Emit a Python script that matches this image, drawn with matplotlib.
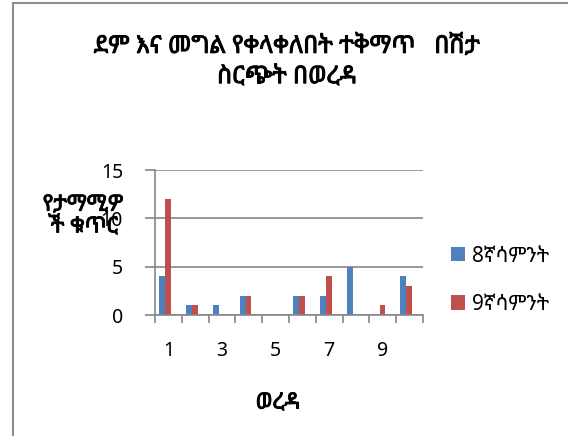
import matplotlib
matplotlib.use("Agg")
import matplotlib.pyplot as plt
import matplotlib.patheffects as pe
import numpy as np
from matplotlib.patches import Rectangle

# data
districts = [1, 2, 3, 4, 5, 6, 7, 8, 9, 10]
week8 = [4, 1, 1, 2, 0, 2, 2, 5, 0, 4]
week9 = [12, 1, 0, 2, 0, 2, 4, 0, 1, 3]
series_names = ["8ኛሳምንት", "9ኛሳምንት"]
title = "ደም እና መግል የቀላቀለበት ተቅማጥ   በሽታ\nስርጭት በወረዳ"
xlabel = "ወረዳ"
ylabel = "የታማሚዎ\nች ቁጥር"

BLUE = "#4F81BD"
RED = "#C0504D"
GRID = "#868686"

plt.rcParams["font.family"] = ["Noto Sans Ethiopic", "Noto Sans", "DejaVu Sans"]

# fake bold, the ethiopic font here is a single-weight variable font
BOLD = [pe.withStroke(linewidth=0.7, foreground="black")]

fig = plt.figure(figsize=(5.68, 4.36), dpi=100)
ax = fig.add_axes([155 / 568, 1 - 315 / 436, (423 - 155) / 568, 145 / 436])

x = np.arange(len(districts))
w = 0.22
ax.bar(x + 0.5 - 0.23, week8, width=w, color=BLUE, label=series_names[0])
ax.bar(x + 0.5 - 0.01, week9, width=w, color=RED, label=series_names[1])

ax.set_xlim(0, len(districts))
ax.set_ylim(0, 15)
ax.set_yticks([0, 5, 10, 15])
ax.yaxis.grid(True, color=GRID, linewidth=1.2)
ax.set_axisbelow(True)
ax.set_xticks(np.arange(len(districts) + 1))
ax.set_xticklabels([])
ax.set_xticks(x[::2] + 0.5, minor=True)
ax.set_xticklabels([str(d) for d in districts[::2]], minor=True)
ax.tick_params(axis="x", which="minor", length=0, pad=19, labelsize=14)
ax.tick_params(axis="x", which="major", length=6, color=GRID, width=1.2)
ax.tick_params(axis="y", length=7, color=GRID, width=1.2, labelsize=14, pad=16)
for side in ["top", "right"]:
    ax.spines[side].set_visible(False)
for side in ["left", "bottom"]:
    ax.spines[side].set_color(GRID)
    ax.spines[side].set_linewidth(1.2)

fig.text(287 / 568, 1 - 62 / 436, title, ha="center", va="center",
         fontsize=17.5, linespacing=1.35, path_effects=BOLD)
fig.text(83 / 568, 1 - 216 / 436, ylabel, ha="center", va="center",
         fontsize=16, linespacing=1.05, path_effects=BOLD)
fig.text(278 / 568, 1 - 403 / 436, xlabel, ha="center", va="center",
         fontsize=16, path_effects=BOLD)

fig.legend(loc="center left", bbox_to_anchor=(432 / 568, 1 - 280 / 436),
           frameon=False, fontsize=15, handlelength=0.7, handleheight=0.7,
           handletextpad=0.3, labelspacing=1.3)

fig.patches.append(Rectangle((13 / 568, -0.1), 1.2, 1 - 3 / 436 + 0.1,
                             transform=fig.transFigure, fill=False,
                             edgecolor="#8c8c8c", linewidth=1.5))

fig.savefig("out.png", dpi=100)
